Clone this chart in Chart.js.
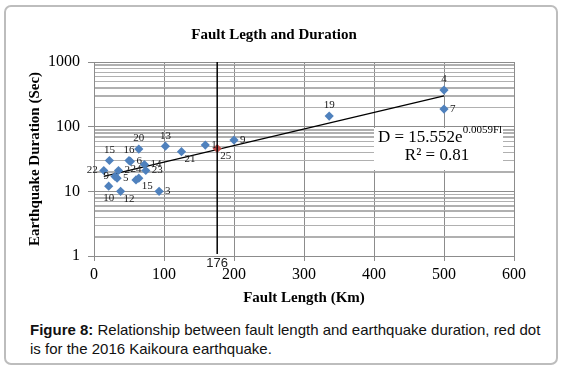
<!DOCTYPE html>
<html>
<head>
<meta charset="utf-8">
<script src="https://cdn.jsdelivr.net/npm/chart.js@4.4.1/dist/chart.umd.min.js"></script>
<style>
  body { margin: 0; background: #fff; }
  #marco { position: absolute; left: 4px; top: 5px; width: 550px; height: 356px; border: 2px solid #bdbdbd; border-radius: 7px; }
  #contenedor { position: absolute; left: 0; top: 0; width: 564px; height: 320px; }
  #leyenda { position: absolute; left: 30px; top: 320px; width: 520px; font: 15px "Liberation Sans", Arial, sans-serif; line-height: 19px; color: #111; }
</style>
</head>
<body>
<div id="marco"></div>
<div id="contenedor"><canvas id="graficoFallas" width="564" height="320"></canvas></div>
<div id="leyenda"><b>Figure 8:</b> Relationship between fault length and earthquake duration, red dot is for the 2016 Kaikoura earthquake.</div>
<script>
// datos
const etiquetas = ['1','2','3','4','5','6','7','9','9','10','12','13','14','15','15','16','19','20','21','22','23','24'];
const longitudFalla = [159, 35, 93, 500, 33, 52, 500, 30, 200, 21, 38, 102, 72, 22, 64, 50, 336, 64, 125, 14, 74, 60];
const duracion = [52, 21, 10, 368, 16, 29, 187, 17, 62, 12, 10, 50, 26, 30, 16, 30, 146, 45, 41, 21, 21, 15];

const kaikouraLongitud = [176];
const kaikouraDuracion = [46];
const kaikouraEtiqueta = ['25'];

// linea de tendencia (extremos)
const tendenciaX = [14, 500];
const tendenciaY = [17, 300];

const ticksY = [1, 10, 100, 1000];
const lineaVertical = 176;

// donde va cada etiqueta respecto al punto
const ladoEtiqueta = ['r','r','r','a','r','r','r','l','r','b','br','a','r','a','br','a','a','a','br','l','r','a'];

// lineas menores 2..9 de cada decada
const ticksMenores = [];
ticksY.slice(0, -1).forEach(d => {
  for (let k = 2; k < 10; k++) ticksMenores.push(k * d);
});

// respaldo: se dibujan por debajo de todo (destination-over)
const menoresPlugin = {
  id: 'menores',
  afterDraw(chart) {
    const { ctx, chartArea, scales } = chart;
    ctx.save();
    ctx.globalCompositeOperation = 'destination-over';
    ctx.strokeStyle = '#b0b0b0';
    ctx.lineWidth = 1;
    ctx.beginPath();
    ticksMenores.forEach(v => {
      const y = Math.round(scales.y.getPixelForValue(v)) + 0.5;
      ctx.moveTo(chartArea.left + 1, y);
      ctx.lineTo(chartArea.right, y);
    });
    ctx.stroke();
    ctx.restore();
  }
};

const etiquetasPlugin = {
  id: 'etiquetas',
  afterDatasetsDraw(chart) {
    const ctx = chart.ctx;
    ctx.save();
    ctx.font = '11px "Liberation Serif"';
    ctx.fillStyle = '#1a1a1a';
    const dibujar = (el, texto, lado) => {
      let x = el.x, y = el.y;
      if (lado === 'r') { ctx.textAlign = 'left'; ctx.textBaseline = 'middle'; x += 6; }
      else if (lado === 'l') { ctx.textAlign = 'right'; ctx.textBaseline = 'middle'; x -= 6; }
      else if (lado === 'a') { ctx.textAlign = 'center'; ctx.textBaseline = 'bottom'; y -= 5; }
      else if (lado === 'b') { ctx.textAlign = 'center'; ctx.textBaseline = 'top'; y += 6; }
      else { ctx.textAlign = 'left'; ctx.textBaseline = 'top'; x += 3; y += 2; }
      ctx.fillText(texto, x, y);
    };
    chart.getDatasetMeta(0).data.forEach((el, i) => dibujar(el, etiquetas[i], ladoEtiqueta[i]));
    chart.getDatasetMeta(1).data.forEach((el, i) => dibujar(el, kaikouraEtiqueta[i], 'br'));
    ctx.restore();
  }
};

const lineaPlugin = {
  id: 'linea176',
  afterDatasetsDraw(chart) {
    const { ctx, chartArea, scales } = chart;
    const x = scales.x.getPixelForValue(lineaVertical);
    ctx.save();
    ctx.strokeStyle = '#000';
    ctx.lineWidth = 1.5;
    ctx.beginPath();
    ctx.moveTo(x, chartArea.top);
    ctx.lineTo(x, chartArea.bottom - 2);
    ctx.stroke();
    ctx.font = '13px "Liberation Sans"';
    ctx.fillStyle = '#222';
    ctx.textAlign = 'center';
    ctx.textBaseline = 'middle';
    ctx.fillText(String(lineaVertical), x, chartArea.bottom + 7);
    ctx.restore();
  }
};

const ecuacionPlugin = {
  id: 'ecuacion',
  afterDatasetsDraw(chart) {
    const ctx = chart.ctx;
    ctx.save();
    ctx.fillStyle = '#fff';
    ctx.fillRect(374, 128, 129, 42);
    ctx.fillStyle = '#000';
    ctx.textAlign = 'left';
    ctx.textBaseline = 'alphabetic';
    ctx.font = '17px "Liberation Serif"';
    const base = 'D = 15.552e';
    ctx.fillText(base, 378, 142);
    const w = ctx.measureText(base).width;
    ctx.font = '11px "Liberation Serif"';
    ctx.fillText('0.0059Fl', 378 + w, 133);
    ctx.font = '17px "Liberation Serif"';
    ctx.textAlign = 'center';
    ctx.fillText('R² = 0.81', 437, 160);
    ctx.restore();
  }
};

Chart.defaults.font.family = '"Liberation Serif", "Times New Roman", serif';
Chart.defaults.color = '#000';

new Chart(document.getElementById('graficoFallas'), {
  type: 'scatter',
  data: {
    datasets: [
      {
        label: 'Earthquakes',
        data: longitudFalla.map((x, i) => ({ x, y: duracion[i] })),
        backgroundColor: '#4F81BD',
        borderColor: '#4F81BD',
        borderWidth: 0,
        pointStyle: 'rectRot',
        pointRadius: 4.6,
        order: 1
      },
      {
        label: 'Kaikoura 2016',
        data: kaikouraLongitud.map((x, i) => ({ x, y: kaikouraDuracion[i] })),
        backgroundColor: '#C0504D',
        borderColor: '#C0504D',
        borderWidth: 0,
        pointStyle: 'rectRot',
        pointRadius: 4.6,
        order: 0
      },
      {
        type: 'line',
        label: 'Trend',
        data: tendenciaX.map((x, i) => ({ x, y: tendenciaY[i] })),
        borderColor: '#000',
        borderWidth: 1.2,
        pointRadius: 0,
        fill: false,
        order: 2
      }
    ]
  },
  options: {
    responsive: false,
    animation: false,
    layout: { padding: { left: 34, right: 50, top: 0, bottom: 9 } },
    plugins: {
      legend: { display: false },
      tooltip: { enabled: false },
      title: {
        display: true,
        text: 'Fault Legth and Duration',
        font: { size: 15, weight: 'bold' },
        padding: { top: 26, bottom: 18 }
      }
    },
    scales: {
      x: {
        type: 'linear',
        min: 0,
        max: 600,
        ticks: { stepSize: 100, font: { size: 16 }, padding: 4 },
        grid: { color: '#8c8c8c', tickColor: '#8c8c8c', tickLength: 5 },
        border: { color: '#8c8c8c' },
        title: { display: true, text: 'Fault Length (Km)', font: { size: 15, weight: 'bold' }, padding: { top: 4, bottom: 4 } },
        afterFit: s => { s.height = 55; }
      },
      // eje auxiliar solo para las lineas menores
      yMenor: {
        type: 'logarithmic',
        position: 'left',
        min: 1,
        max: 1000,
        weight: 1,
        afterBuildTicks: s => { s.ticks = ticksMenores.map(v => ({ value: v })); },
        ticks: { display: false, autoSkip: false },
        grid: { color: '#b0b0b0', drawTicks: false },
        border: { display: false },
        afterFit: s => { s.width = 0; }
      },
      y: {
        type: 'logarithmic',
        min: 1,
        max: 1000,
        weight: 0,
        afterBuildTicks: s => { s.ticks = ticksY.map(v => ({ value: v, major: true })); },
        ticks: {
          autoSkip: false,
          font: { size: 16 },
          padding: 8,
          callback: v => String(v)
        },
        grid: { color: '#8c8c8c', tickColor: '#8c8c8c', tickLength: 6 },
        border: { color: '#8c8c8c' },
        title: { display: true, text: 'Earthquake Duration (Sec)', font: { size: 15, weight: 'bold' }, padding: { top: -8, bottom: 0 } },
        afterFit: s => { s.width = 60; }
      }
    }
  },
  plugins: [menoresPlugin, lineaPlugin, etiquetasPlugin, ecuacionPlugin]
});
</script>
</body>
</html>
